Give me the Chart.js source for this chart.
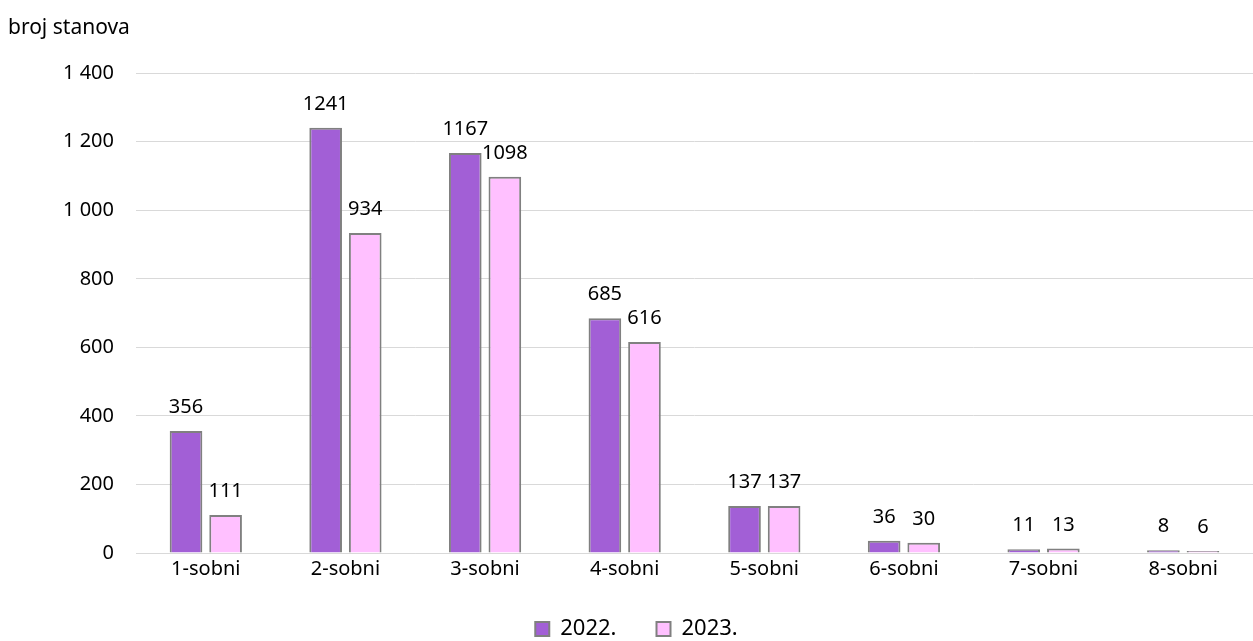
<!DOCTYPE html>
<html lang="hr">
<head>
<meta charset="UTF-8">
<title>broj stanova</title>
<style>
  html, body { margin: 0; padding: 0; background: #fff; }
  #wrap { width: 1253px; height: 641px; }
</style>
</head>
<body>
<div id="wrap"><canvas id="chart" width="1253" height="641"></canvas></div>
<script src="https://cdn.jsdelivr.net/npm/chart.js@4.4.1/dist/chart.umd.min.js"></script>
<script>
const categories = ['1-sobni', '2-sobni', '3-sobni', '4-sobni', '5-sobni', '6-sobni', '7-sobni', '8-sobni']
const values2022 = [356, 1241, 1167, 685, 137, 36, 11, 8]
const values2023 = [111, 934, 1098, 616, 137, 30, 13, 6]
const seriesNames = ['2022.', '2023.']
const yTicks = [0, 200, 400, 600, 800, 1000, 1200, 1400]

const FONT = "'Noto Sans', 'Open Sans', sans-serif"

const fmt = v => String(v).replace(/\B(?=(\d{3})+(?!\d))/g, ' ')

// value above each bar
const valueLabels = {
    id: 'valueLabels',
    afterDatasetsDraw(chart) {
        const ctx = chart.ctx
        ctx.save()
        ctx.font = '20px ' + FONT
        ctx.fillStyle = '#000'
        ctx.textAlign = 'center'
        ctx.textBaseline = 'alphabetic'
        chart.data.datasets.forEach((ds, i) => {
            chart.getDatasetMeta(i).data.forEach((bar, j) => {
                ctx.fillText(ds.data[j], bar.x, bar.y - 18)
            })
        })
        ctx.restore()
    }
}

new Chart(document.getElementById('chart').getContext('2d'), {
    type: 'bar',
    data: {
        labels: categories,
        datasets: [
            {
                label: seriesNames[0],
                data: values2022,
                backgroundColor: '#a25fd6',
                borderColor: '#808080',
                borderWidth: 2,
                barPercentage: 0.825,
                categoryPercentage: 0.567
            },
            {
                label: seriesNames[1],
                data: values2023,
                backgroundColor: '#ffc0ff',
                borderColor: '#808080',
                borderWidth: 2,
                barPercentage: 0.825,
                categoryPercentage: 0.567
            }
        ]
    },
    options: {
        responsive: false,
        animation: false,
        layout: { padding: { left: 8, right: -12, top: 0, bottom: -9 } },
        plugins: {
            title: {
                display: true,
                text: 'broj stanova',
                align: 'start',
                color: '#000',
                font: { family: FONT, size: 21, weight: 'normal' },
                padding: { top: 15, bottom: 33 }
            },
            legend: {
                position: 'bottom',
                labels: {
                    color: '#000',
                    font: { family: FONT, size: 22 },
                    boxWidth: 14,
                    boxHeight: 14,
                    padding: 40
                }
            },
            tooltip: { enabled: false }
        },
        scales: {
            x: {
                grid: { display: false, drawTicks: false },
                border: { color: '#d9d9d9', width: 1 },
                ticks: { color: '#000', font: { family: FONT, size: 20 }, padding: 4 },
                afterFit: axis => { axis.height = 25 }
            },
            y: {
                min: 0,
                max: 1400,
                afterBuildTicks: axis => { axis.ticks = yTicks.map(v => ({ value: v })) },
                grid: { color: '#d9d9d9', drawTicks: false },
                border: { display: false },
                ticks: {
                    color: '#000',
                    font: { family: FONT, size: 20 },
                    padding: 22,
                    callback: v => fmt(v)
                },
                afterFit: axis => { axis.width = 128 }
            }
        }
    },
    plugins: [valueLabels]
})
</script>
</body>
</html>
